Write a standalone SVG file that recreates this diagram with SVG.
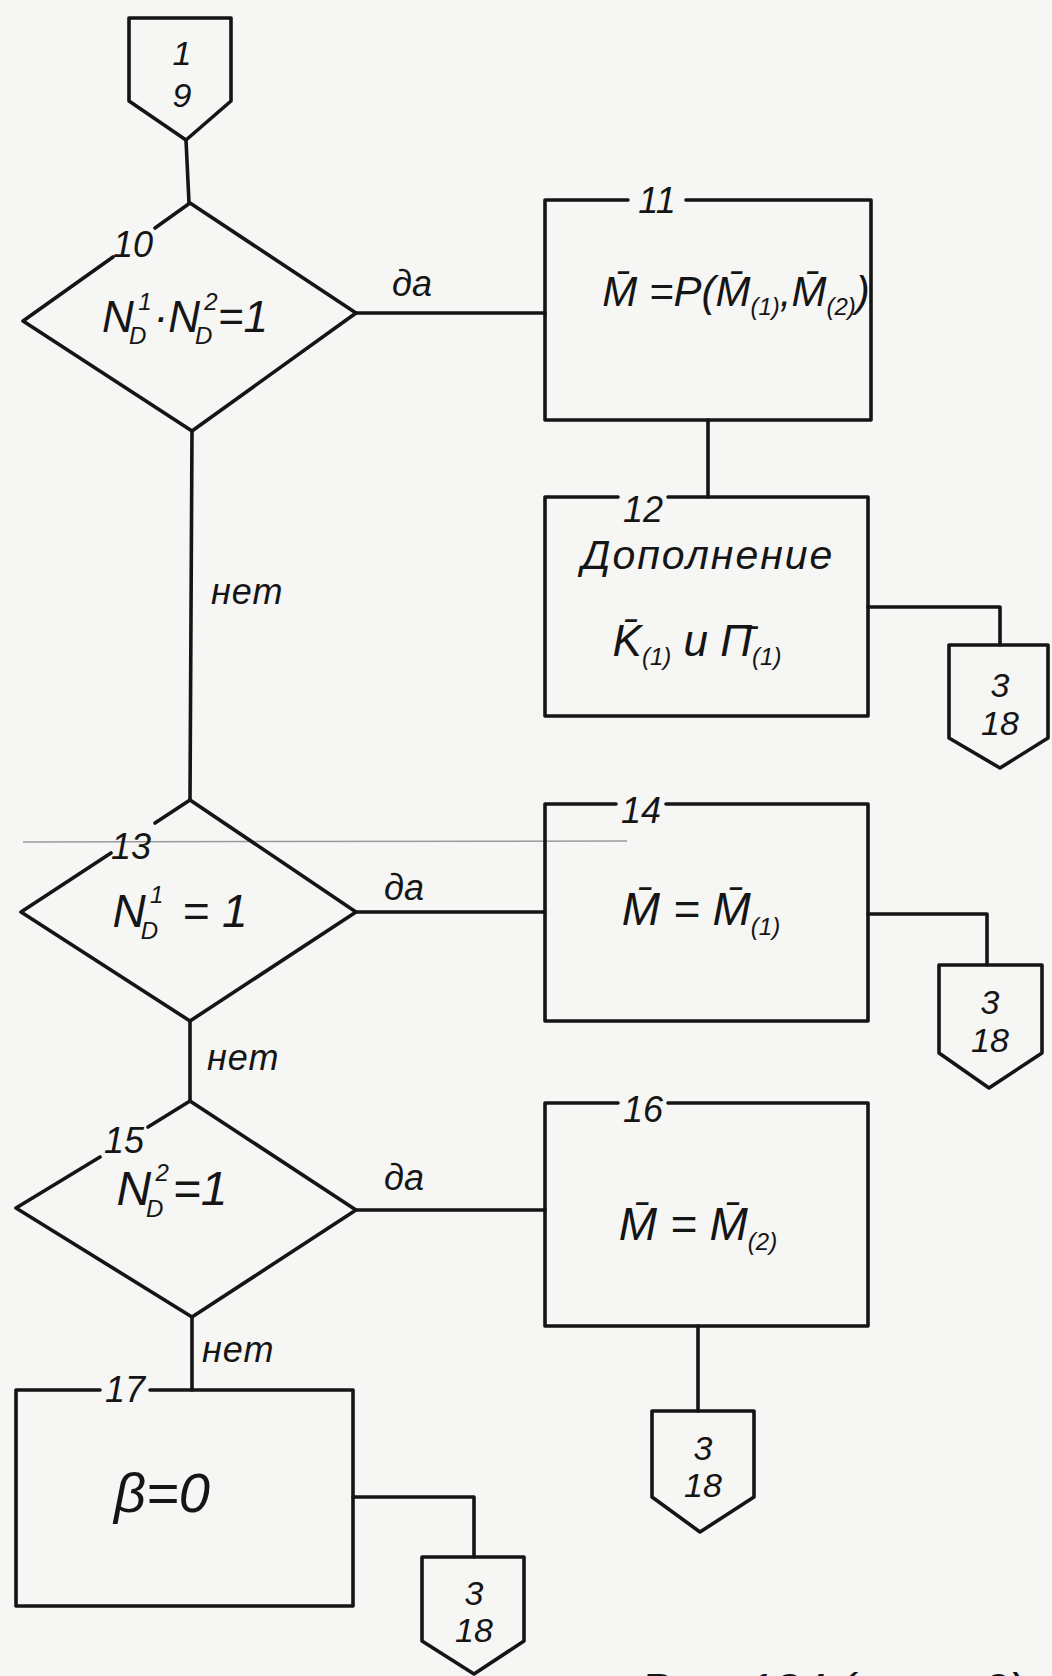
<svg xmlns="http://www.w3.org/2000/svg" width="1052" height="1676" viewBox="0 0 1052 1676">
<style>
.bg{fill:#f6f6f4}
.sh{fill:none;stroke:#151515;stroke-width:3.6;stroke-linejoin:round;stroke-linecap:round}
.ln{fill:none;stroke:#151515;stroke-width:3.6;stroke-linecap:round;stroke-linejoin:round}
.t{font-family:"Liberation Sans","DejaVu Sans",sans-serif;font-style:italic;fill:#151515}
.num{font-size:36px;text-anchor:middle}
.lbl{font-size:36px}
.c{text-anchor:middle}
.sub{font-size:24px}
.pg{font-size:34px;text-anchor:middle}
</style>
<rect class="bg" x="0" y="0" width="1052" height="1676"/>
<line x1="23" y1="842" x2="627" y2="841" stroke="#9a9a9a" stroke-width="1.5"/>

<g id="connectors">
  <polyline class="ln" points="186,140 189,203"/>
  <polyline class="ln" points="356,313 545,313"/>
  <polyline class="ln" points="708,420 708,497"/>
  <polyline class="ln" points="868,607 1000,607 1000,645"/>
  <polyline class="ln" points="192,431 190,800"/>
  <polyline class="ln" points="356,912 545,912"/>
  <polyline class="ln" points="868,914 987,914 987,965"/>
  <polyline class="ln" points="190,1021 190,1101"/>
  <polyline class="ln" points="356,1210 545,1210"/>
  <polyline class="ln" points="698,1326 698,1411"/>
  <polyline class="ln" points="192,1317 192,1390"/>
  <polyline class="ln" points="353,1497 474,1497 474,1557"/>
  <text class="t lbl" x="392" y="296">да</text>
  <text class="t lbl" x="211" y="604" letter-spacing="1">нет</text>
  <text class="t lbl" x="384" y="900">да</text>
  <text class="t lbl" x="207" y="1070" letter-spacing="1">нет</text>
  <text class="t lbl" x="384" y="1190">да</text>
  <text class="t lbl" x="202" y="1362" letter-spacing="1">нет</text>
</g>

<g id="conn-1-9">
  <path class="sh" d="M129,18 H231 V101 L186,140 L129,101 Z"/>
  <text class="t pg" x="182" y="65">1</text>
  <text class="t pg" x="182" y="107" font-size="36">9</text>
</g>

<g id="node10">
  <path class="sh" d="M155,228 L190,203 L356,313 L192,431 L23,321 L113,257"/>
  <text class="t num" x="133" y="257">10</text>
  <text class="t c" x="185" y="332" font-size="44">N<tspan class="sub" dy="12" dx="-5">D</tspan><tspan class="sub" dy="-34" dx="-8">1</tspan><tspan dy="22" dx="2">·N</tspan><tspan class="sub" dy="12" dx="-5">D</tspan><tspan class="sub" dy="-34" dx="-8">2</tspan><tspan dy="22">=1</tspan></text>
</g>

<g id="node11">
  <path class="sh" d="M628,200 H545 V420 H871 V200 H686"/>
  <text class="t num" x="657" y="213">11</text>
  <text class="t c" x="736" y="306" font-size="42">M&#x304; =P(M&#x304;<tspan class="sub" dy="9">(1)</tspan><tspan dy="-9">,M&#x304;</tspan><tspan class="sub" dy="9">(2)</tspan><tspan dy="-9">)</tspan></text>
</g>

<g id="node12">
  <path class="sh" d="M618,497 H545 V716 H868 V497 H668"/>
  <text class="t num" x="643" y="522">12</text>
  <text class="t c" x="708" y="569" font-size="41" letter-spacing="2">Дополнение</text>
  <text class="t c" x="697" y="656" font-size="44">K&#x304;<tspan class="sub" dy="9">(1)</tspan><tspan dy="-9"> и П&#x304;</tspan><tspan class="sub" dy="9">(1)</tspan></text>
</g>

<g id="conn-3-18-a">
  <path class="sh" d="M949,645 H1048 V738 L1000,768 L949,738 Z"/>
  <text class="t pg" x="1000" y="697">3</text>
  <text class="t pg" x="1000" y="735">18</text>
</g>

<g id="node13">
  <path class="sh" d="M155,823 L190,800 L356,912 L190,1021 L21,912 L111,853"/>
  <text class="t num" x="131" y="859">13</text>
  <text class="t c" x="180" y="927" font-size="46">N<tspan class="sub" dy="12" dx="-5">D</tspan><tspan class="sub" dy="-36" dx="-8">1</tspan><tspan dy="24" dx="6"> = 1</tspan></text>
</g>

<g id="node14">
  <path class="sh" d="M616,804 H545 V1021 H868 V804 H666"/>
  <text class="t num" x="641" y="823">14</text>
  <text class="t c" x="701" y="925" font-size="46">M&#x304; = M&#x304;<tspan class="sub" dy="10">(1)</tspan></text>
</g>

<g id="conn-3-18-b">
  <path class="sh" d="M939,965 H1042 V1053 L989,1088 L939,1053 Z"/>
  <text class="t pg" x="990" y="1014">3</text>
  <text class="t pg" x="990" y="1052">18</text>
</g>

<g id="node15">
  <path class="sh" d="M148,1127 L190,1101 L356,1210 L192,1317 L16,1208 L100,1157"/>
  <text class="t num" x="124" y="1153">15</text>
  <text class="t c" x="172" y="1205" font-size="48">N<tspan class="sub" dy="12" dx="-5">D</tspan><tspan class="sub" dy="-36" dx="-8">2</tspan><tspan dy="24" dx="4">=1</tspan></text>
</g>

<g id="node16">
  <path class="sh" d="M618,1103 H545 V1326 H868 V1103 H668"/>
  <text class="t num" x="643" y="1122">16</text>
  <text class="t c" x="698" y="1240" font-size="46">M&#x304; = M&#x304;<tspan class="sub" dy="10">(2)</tspan></text>
</g>

<g id="conn-3-18-c">
  <path class="sh" d="M652,1411 H754 V1497 L700,1532 L652,1497 Z"/>
  <text class="t pg" x="703" y="1460">3</text>
  <text class="t pg" x="703" y="1497">18</text>
</g>

<g id="node17">
  <path class="sh" d="M100,1390 H16 V1606 H353 V1390 H150"/>
  <text class="t num" x="125" y="1402">17</text>
  <text class="t c" x="162" y="1512" font-size="56">β=0</text>
</g>

<g id="conn-3-18-d">
  <path class="sh" d="M422,1557 H524 V1641 L474,1674 L422,1641 Z"/>
  <text class="t pg" x="474" y="1605">3</text>
  <text class="t pg" x="474" y="1642">18</text>
</g>

<text class="t" x="640" y="1706" font-size="47">Рис. 134 (лист 2)</text>
</svg>
